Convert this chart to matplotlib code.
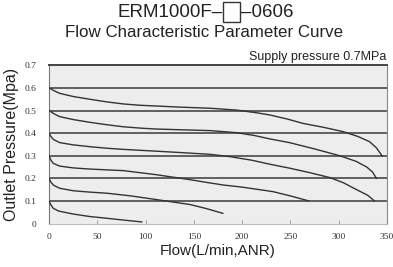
import matplotlib
matplotlib.use("Agg")
import matplotlib.pyplot as plt
from matplotlib.patches import Rectangle

# 공급압 0.7MPa 에서 설정압력별 유량-출구압 곡선
set_pressures = [0.6, 0.5, 0.4, 0.3, 0.2, 0.1]

flow_06 = [0, 5, 11, 25, 42, 60, 77, 95, 111, 135, 167, 194, 215, 229, 247,
           263, 285, 305, 320, 332, 339, 345]
pres_06 = [0.6, 0.588, 0.576, 0.562, 0.55, 0.538, 0.529, 0.523, 0.52, 0.515,
           0.51, 0.502, 0.49, 0.48, 0.462, 0.443, 0.425, 0.406, 0.385, 0.362,
           0.335, 0.299]

flow_05 = [0, 5, 11, 25, 42, 60, 77, 95, 111, 135, 167, 194, 212, 229, 249,
           275, 301, 318, 329, 335, 339]
pres_05 = [0.5, 0.486, 0.473, 0.46, 0.448, 0.437, 0.428, 0.422, 0.418, 0.415,
           0.411, 0.402, 0.39, 0.374, 0.358, 0.33, 0.3, 0.275, 0.25, 0.228, 0.2]

flow_04 = [0, 2, 4.5, 11, 25, 42, 60, 77, 111, 140, 167, 187, 210, 229, 249,
           270, 291, 305, 318, 330, 337]
pres_04 = [0.4, 0.385, 0.372, 0.358, 0.348, 0.34, 0.333, 0.328, 0.32, 0.313,
           0.306, 0.296, 0.28, 0.262, 0.245, 0.225, 0.203, 0.18, 0.151, 0.125, 0.1]

flow_03 = [0, 2, 4.5, 11, 25, 42, 77, 111, 130, 146, 163, 181, 200, 216, 232,
           250, 269]
pres_03 = [0.3, 0.28, 0.266, 0.254, 0.246, 0.241, 0.234, 0.216, 0.204, 0.194,
           0.182, 0.17, 0.161, 0.151, 0.141, 0.122, 0.1]

flow_02 = [0, 2, 4.5, 11, 25, 42, 60, 85, 111, 130, 146, 163, 180]
pres_02 = [0.2, 0.183, 0.17, 0.156, 0.145, 0.139, 0.134, 0.122, 0.106, 0.094,
           0.084, 0.066, 0.045]

flow_01 = [0, 2, 4.5, 10, 25, 42, 60, 80, 96]
pres_01 = [0.1, 0.082, 0.067, 0.055, 0.042, 0.031, 0.023, 0.014, 0.007]

curves = [(flow_06, pres_06), (flow_05, pres_05), (flow_04, pres_04),
          (flow_03, pres_03), (flow_02, pres_02), (flow_01, pres_01)]

x_ticks = [0, 50, 100, 150, 200, 250, 300, 350]
y_ticks = [0, 0.1, 0.2, 0.3, 0.4, 0.5, 0.6, 0.7]
y_ticklabels = ["0", "0.1", "0.2", "0.3", "0.4", "0.5", "0.6", "0.7"]

plt.rcParams["font.family"] = ["Liberation Sans", "DejaVu Sans"]

fig = plt.figure(figsize=(3.93, 2.67), dpi=100)
ax = fig.add_axes([0.1247, 0.1629, 0.86, 0.5925])
ax.set_facecolor("#ededed")

# 설정압력 수평선
for p in set_pressures:
    ax.axhline(p, color="#555555", lw=1.3, zorder=2)

for fl, pr in curves:
    ax.plot(fl, pr, color="#333333", lw=1.0, zorder=3)

ax.set_xlim(0, 350)
ax.set_ylim(0, 0.7)
ax.set_xticks(x_ticks)
ax.set_yticks(y_ticks)
ax.set_yticklabels(y_ticklabels)
ax.tick_params(axis="x", direction="in", length=3, color="#aaaaaa",
               pad=7, labelsize=6.8, labelcolor="#333333")
ax.tick_params(axis="y", length=0, pad=9, labelsize=6.8, labelcolor="#333333")
for lab in ax.get_xticklabels() + ax.get_yticklabels():
    lab.set_family("Liberation Serif")

ax.spines["top"].set_color("#444444")
ax.spines["top"].set_linewidth(1.4)
ax.spines["left"].set_color("#777777")
ax.spines["right"].set_color("#888888")
ax.spines["bottom"].set_color("#bbbbbb")

ax.set_xlabel("Flow(L/min,ANR)", fontsize=11, color="#222222", labelpad=2)
ax.set_ylabel("Outlet Pressure(Mpa)", fontsize=11.5, color="#222222", labelpad=4)

# 제목 (모델명 사이의 빈 상자 포함)
fig.text(0.566, 0.952, "ERM1000F\u2013", ha="right", va="center",
         fontsize=13.5, color="#222222")
fig.patches.append(Rectangle((0.568, 0.918), 0.043, 0.074, transform=fig.transFigure,
                             fill=False, edgecolor="#333333", lw=1.0))
fig.text(0.612, 0.952, "\u20130606", ha="left", va="center",
         fontsize=13.5, color="#222222")
fig.text(0.52, 0.88, "Flow Characteristic Parameter Curve", ha="center",
         va="center", fontsize=12.2, color="#222222")
fig.text(0.982, 0.785, "Supply pressure 0.7MPa", ha="right", va="center",
         fontsize=9, color="#222222")

fig.savefig("out.png", dpi=100)
